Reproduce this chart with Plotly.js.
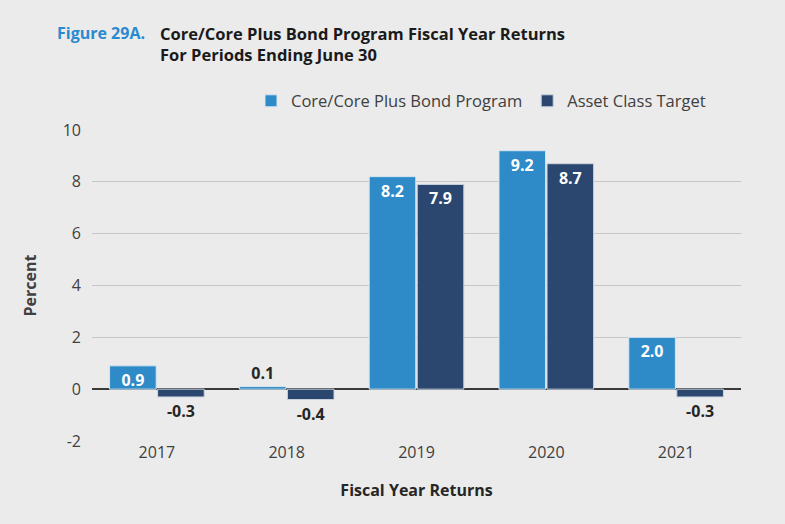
<!DOCTYPE html>
<html>
<head>
<meta charset="utf-8">
<script src="https://cdn.plot.ly/plotly-3.0.1.min.js"></script>
<style>
  body { margin: 0; background: #ebebeb; }
  #chart { width: 785px; height: 524px; }
</style>
</head>
<body>
<div id="chart"></div>
<script>
var years = ['2017', '2018', '2019', '2020', '2021'];
var programReturns = [0.9, 0.1, 8.2, 9.2, 2.0];
var targetReturns = [-0.3, -0.4, 7.9, 8.7, -0.3];
var yTickVals = [-2, 0, 2, 4, 6, 8, 10];
var yTickText = ['-2', '0', '2', '4', '6', '8', '10'];

var lightBlue = '#2e8bc7';
var darkBlue = '#2b4770';
var fontName = 'Open Sans, sans-serif';

function labels(vals) {
  return vals.map(function (v) { return v.toFixed(1); });
}

// small values go outside the bar, like the original
function positions(vals) {
  return vals.map(function (v) { return Math.abs(v) < 0.6 ? 'outside' : 'inside'; });
}

var program = {
  x: years,
  y: programReturns,
  name: 'Core/Core Plus Bond Program',
  type: 'bar',
  marker: {color: lightBlue, line: {color: '#d6e4f0', width: 1}},
  text: labels(programReturns),
  textposition: positions(programReturns),
  insidetextanchor: 'end',
  constraintext: 'none',
  cliponaxis: false,
  insidetextfont: {family: fontName, size: 16, color: '#ffffff', weight: 'bold'},
  outsidetextfont: {family: fontName, size: 16, color: '#262626', weight: 'bold'},
  hoverinfo: 'x+y'
};

var target = {
  x: years,
  y: targetReturns,
  name: 'Asset Class Target',
  type: 'bar',
  marker: {color: darkBlue, line: {color: '#c9d3de', width: 1}},
  text: labels(targetReturns),
  textposition: positions(targetReturns),
  insidetextanchor: 'end',
  constraintext: 'none',
  cliponaxis: false,
  insidetextfont: {family: fontName, size: 16, color: '#ffffff', weight: 'bold'},
  outsidetextfont: {family: fontName, size: 16, color: '#262626', weight: 'bold'},
  hoverinfo: 'x+y'
};

var layout = {
  width: 785,
  height: 524,
  paper_bgcolor: '#ebebeb',
  plot_bgcolor: '#ebebeb',
  margin: {l: 92, r: 44, t: 130, b: 83},
  font: {family: fontName, size: 16, color: '#404040'},
  barmode: 'group',
  bargap: 0.26,
  bargroupgap: 0.03,
  showlegend: true,
  legend: {
    orientation: 'h',
    x: 0.245, xanchor: 'left',
    y: 1.093, yanchor: 'middle',
    font: {family: fontName, size: 16.5, color: '#404040'},
    bgcolor: 'rgba(0,0,0,0)',
    itemwidth: 30
  },
  xaxis: {
    type: 'category',
    showgrid: false,
    ticks: '',
    tickfont: {size: 16, color: '#404040'},
    showline: false,
    zeroline: false,
    title: {text: 'Fiscal Year Returns', font: {size: 16, color: '#262626', weight: 'bold'}, standoff: 22}
  },
  yaxis: {
    range: [-2, 10],
    tickmode: 'array',
    tickvals: yTickVals,
    ticktext: yTickText,
    showgrid: true,
    gridcolor: '#c6c6c6',
    gridwidth: 1,
    zeroline: true,
    zerolinecolor: '#3a3a3a',
    zerolinewidth: 2,
    ticks: '',
    ticklen: 0,
    ticklabelstandoff: 10,
    tickfont: {size: 16, color: '#404040'},
    title: {text: 'Percent', font: {size: 16, color: '#404040', weight: 'bold'}, standoff: 22}
  },
  annotations: [
    {
      text: 'Figure 29A.',
      xref: 'paper', yref: 'paper',
      x: -0.057, y: 1.312, xanchor: 'left', yanchor: 'middle',
      showarrow: false,
      font: {family: fontName, size: 16, color: '#2a8ad0', weight: 'bold'}
    },
    {
      text: 'Core/Core Plus Bond Program Fiscal Year Returns<br>For Periods Ending June 30',
      xref: 'paper', yref: 'paper',
      x: 0.102, y: 1.275, xanchor: 'left', yanchor: 'middle', align: 'left',
      showarrow: false,
      font: {family: fontName, size: 16.5, color: '#1a1a1a', weight: 'bold'}
    }
  ]
};

Plotly.newPlot('chart', [program, target], layout, {displayModeBar: false, staticPlot: true});
</script>
</body>
</html>
